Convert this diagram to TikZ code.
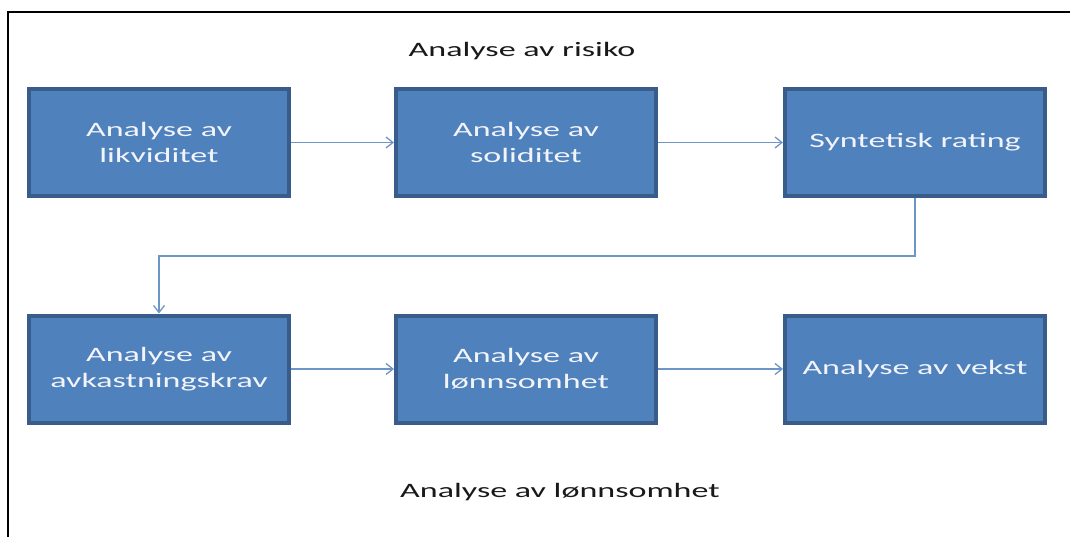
\documentclass[tikz,border=0pt]{standalone}
\usepackage{fontspec}
\setmainfont{Carlito}
\newfontfamily\widefont[FakeStretch=1.66]{Carlito}
\usetikzlibrary{arrows.meta}
\definecolor{boxfill}{HTML}{4F81BD}
\definecolor{boxline}{HTML}{385D8A}
\definecolor{flowline}{HTML}{6E95C8}
\definecolor{boxtext}{HTML}{F2F4FA}
\tikzset{
  stepbox/.style={rectangle, fill=boxfill, draw=boxline, line width=4pt,
    minimum width=260pt, minimum height=107pt, inner sep=0pt,
    text=boxtext, align=center,
    font=\widefont\fontsize{20.5}{26}\selectfont},
  heading/.style={text=black!90, inner sep=0pt,
    font=\widefont\fontsize{20.5}{26}\selectfont},
  flow/.style={draw=flowline, line width=1.7pt,
    -{Straight Barb[length=7pt,width=11pt,line width=1.3pt]}}
}
\begin{document}
\begin{tikzpicture}[x=1pt,y=-1pt]
  \useasboundingbox (0,0) rectangle (1070,537);
  % open frame: top and left edges only
  \draw[line width=2pt] (1070,12) -- (8,12) -- (8,537);

  \node[heading, anchor=base] (risk) at (522,57) {Analyse av risiko};
  \node[heading, anchor=base] (profit) at (560,497) {Analyse av lønnsomhet};

  \node[stepbox] (likv) at (159,142.5) {Analyse av\\likviditet};
  \node[stepbox] (soli) at (526,142.5) {Analyse av\\soliditet};
  \node[stepbox] (rate) at (915,142.5) {Syntetisk rating};
  \node[stepbox] (avk)  at (159,369) {Analyse av\\avkastningskrav};
  \node[stepbox] (lonn) at (526,369) {Analyse av\\lønnsomhet};
  \node[stepbox] (vekst) at (915,369) {Analyse av vekst};

  \coordinate (turnA) at (915,256);
  \coordinate (turnB) at (159,256);

  \draw[flow] (likv.east) -- (soli.west);
  \draw[flow] (soli.east) -- (rate.west);
  \draw[flow] (rate.south) -- (turnA) -- (turnB) -- (avk.north);
  \draw[flow] (avk.east) -- (lonn.west);
  \draw[flow] (lonn.east) -- (vekst.west);
\end{tikzpicture}
\end{document}
